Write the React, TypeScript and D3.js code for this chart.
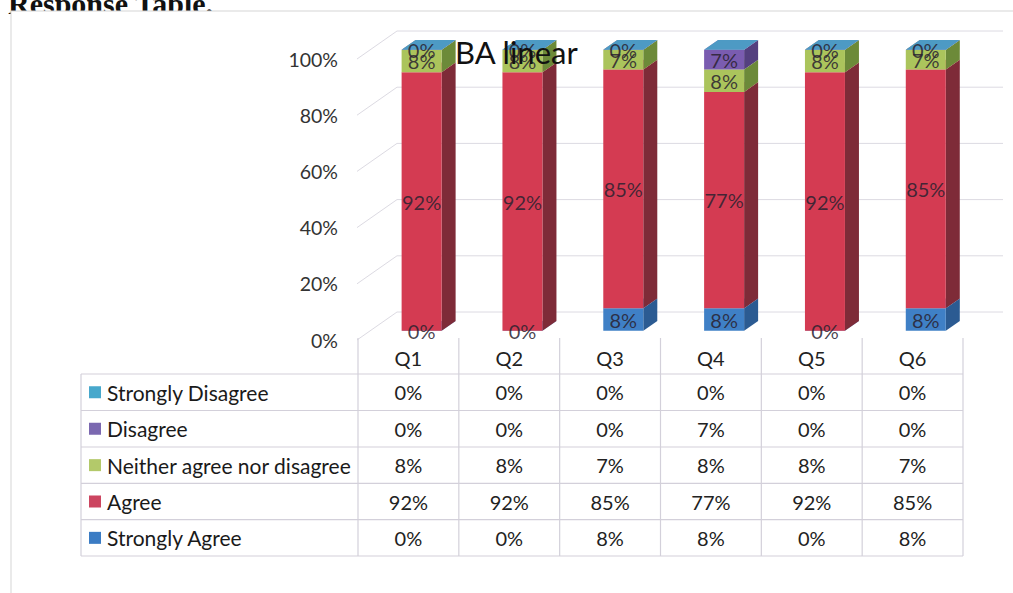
import React from 'react';
import * as d3 from 'd3';

const categories = ['Q1', 'Q2', 'Q3', 'Q4', 'Q5', 'Q6'];
const stronglyAgree = [0, 0, 8, 8, 0, 8];
const agree = [92, 92, 85, 77, 92, 85];
const neither = [8, 8, 7, 8, 8, 7];
const disagree = [0, 0, 0, 7, 0, 0];
const stronglyDisagree = [0, 0, 0, 0, 0, 0];
const yTicks = [0, 20, 40, 60, 80, 100];
const chartTitle = 'BA linear';
const pageHeading = 'Response Table.';

// stack order bottom -> top
const seriesKeys = ['sa', 'a', 'n', 'd', 'sd'];
const seriesNames: Record<string, string> = {
  sa: 'Strongly Agree',
  a: 'Agree',
  n: 'Neither agree nor disagree',
  d: 'Disagree',
  sd: 'Strongly Disagree',
};
const seriesValues: Record<string, number[]> = {
  sa: stronglyAgree,
  a: agree,
  n: neither,
  d: disagree,
  sd: stronglyDisagree,
};
const showLabel: Record<string, boolean> = { sa: true, a: true, n: true, d: true, sd: false };
const tableOrder = ['sd', 'd', 'n', 'a', 'sa'];

const colors: Record<string, { front: string; side: string; top: string; key: string }> = {
  sa: { front: '#3f80c6', side: '#2b5b92', top: '#6d9fd6', key: '#3b7cc4' },
  a: { front: '#d43b52', side: '#7e2b38', top: '#e26a7c', key: '#cc4560' },
  n: { front: '#abc45c', side: '#6c8a39', top: '#c5d882', key: '#b3c96a' },
  d: { front: '#7a5cb0', side: '#54407f', top: '#9b84c6', key: '#7b68b0' },
  sd: { front: '#4aa3c8', side: '#2f7d9b', top: '#4d9ac4', key: '#47a8cc' },
};

const FONT = 'Lato, "Open Sans", sans-serif';

export default function App() {
  const width = 1013;
  const height = 593;

  const x = d3.scaleBand<string>().domain(categories).range([358, 963]).padding(0);
  const y = d3.scaleLinear().domain([0, 100]).range([340, 59]);
  const DX = 40;
  const DY = -28;
  const dFront = 0.33;
  const dBack = 0.68;
  const barW = 40;

  const P = (xb: number, v: number, depth: number): [number, number] => [xb + DX * depth, y(v) + DY * depth];
  const poly = (pts: [number, number][]) => pts.map((p) => p.join(',')).join(' ');

  const rows = categories.map((c, i) => {
    const o: any = { cat: c };
    seriesKeys.forEach((k) => (o[k] = seriesValues[k][i]));
    return o;
  });
  const stacked = d3.stack<any>().keys(seriesKeys)(rows);

  const gridColor = '#dcdae2';
  const tableLine = '#d3d0da';

  const tableLeft = 81;
  const tableRight = 963;
  const headerTop = 338;
  const rowTops = [374, 410.5, 447, 483.3, 519.7, 556];

  return (
    <div style={{ position: 'absolute', left: 0, top: 0, width, height, background: '#fff' }}>
      <svg width={width} height={height} style={{ display: 'block' }}>
        <rect x={0} y={0} width={width} height={height} fill="#fff" />
        <text x={8} y={14} fontFamily='"Liberation Serif", serif' fontWeight="bold" fontSize={30} fill="#111">
          {pageHeading}
        </text>
        <rect x={11} y={11} width={width} height={height} fill="#fff" stroke="#d6d6d6" strokeWidth={1} />

        {/* gridlines: side wall + back wall */}
        {yTicks.map((t) => {
          const a = P(357, t, 0);
          const b = P(357, t, 1);
          const c = P(963, t, 1);
          return (
            <g key={'g' + t}>
              <line x1={a[0]} y1={a[1]} x2={b[0]} y2={b[1]} stroke={gridColor} strokeWidth={1} />
              <line x1={b[0]} y1={b[1]} x2={c[0]} y2={c[1]} stroke={gridColor} strokeWidth={1} />
            </g>
          );
        })}

        {/* y tick labels */}
        {yTicks.map((t) => (
          <text key={'t' + t} x={338} y={y(t)} textAnchor="end" dominantBaseline="central" fontFamily={FONT} fontSize={19.5} fill="#333">
            {t + '%'}
          </text>
        ))}

        {/* bars */}
        {categories.map((c, i) => {
          const cx = (x(c) as number) + x.bandwidth() / 2;
          const xl = cx - barW / 2;
          const xr = cx + barW / 2;
          return (
            <g key={'bar' + c}>
              {stacked.map((s) => {
                const k = s.key;
                const [v0, v1] = s[i];
                const col = colors[k];
                return (
                  <g key={k}>
                    <polygon points={poly([P(xr, v0, dFront), P(xr, v0, dBack), P(xr, v1, dBack), P(xr, v1, dFront)])} fill={col.side} />
                    <polygon points={poly([P(xl, v0, dFront), P(xr, v0, dFront), P(xr, v1, dFront), P(xl, v1, dFront)])} fill={col.front} />
                    <polygon points={poly([P(xl, v1, dFront), P(xr, v1, dFront), P(xr, v1, dBack), P(xl, v1, dBack)])} fill={col.top} />
                  </g>
                );
              })}
            </g>
          );
        })}

        {/* data labels */}
        {categories.map((c, i) => {
          const cx = (x(c) as number) + x.bandwidth() / 2;
          return (
            <g key={'lab' + c}>
              {stacked.map((s) => {
                const k = s.key;
                if (!showLabel[k]) return null;
                const [v0, v1] = s[i];
                const p = P(cx, (v0 + v1) / 2, dFront);
                return (
                  <text key={k} x={p[0]} y={p[1]} textAnchor="middle" dominantBaseline="central" fontFamily={FONT} fontSize={20} fill="#2a2230" fillOpacity={0.85}>
                    {seriesValues[k][i] + '%'}
                  </text>
                );
              })}
            </g>
          );
        })}

        {/* title */}
        <text x={455} y={52} dominantBaseline="central" fontFamily={FONT} fontSize={31} fill="#111">
          {chartTitle}
        </text>

        {/* data table */}
        {rowTops.map((ry, i) => (
          <line key={'h' + i} x1={tableLeft} x2={tableRight} y1={ry} y2={ry} stroke={tableLine} strokeWidth={1.2} />
        ))}
        <line x1={tableLeft} x2={tableLeft} y1={rowTops[0]} y2={rowTops[rowTops.length - 1]} stroke={tableLine} strokeWidth={1.2} />
        {categories.map((c) => (
          <line key={'v' + c} x1={x(c) as number} x2={x(c) as number} y1={headerTop} y2={rowTops[rowTops.length - 1]} stroke={tableLine} strokeWidth={1.2} />
        ))}
        <line x1={tableRight} x2={tableRight} y1={headerTop} y2={rowTops[rowTops.length - 1]} stroke={tableLine} strokeWidth={1.2} />

        {categories.map((c) => (
          <text key={'q' + c} x={(x(c) as number) + x.bandwidth() / 2} y={(headerTop + rowTops[0]) / 2 + 2} textAnchor="middle" dominantBaseline="central" fontFamily={FONT} fontSize={20} fill="#222">
            {c}
          </text>
        ))}

        {tableOrder.map((k, ri) => {
          const yc = (rowTops[ri] + rowTops[ri + 1]) / 2;
          return (
            <g key={'row' + k}>
              <rect x={89} y={yc - 6} width={12} height={12} fill={colors[k].key} />
              <text x={107} y={yc} dominantBaseline="central" fontFamily={FONT} fontSize={21} fill="#1a1a1a">
                {seriesNames[k]}
              </text>
              {categories.map((c, ci) => (
                <text key={c} x={(x(c) as number) + x.bandwidth() / 2} y={yc} textAnchor="middle" dominantBaseline="central" fontFamily={FONT} fontSize={20} fill="#222">
                  {seriesValues[k][ci] + '%'}
                </text>
              ))}
            </g>
          );
        })}
      </svg>
    </div>
  );
}
